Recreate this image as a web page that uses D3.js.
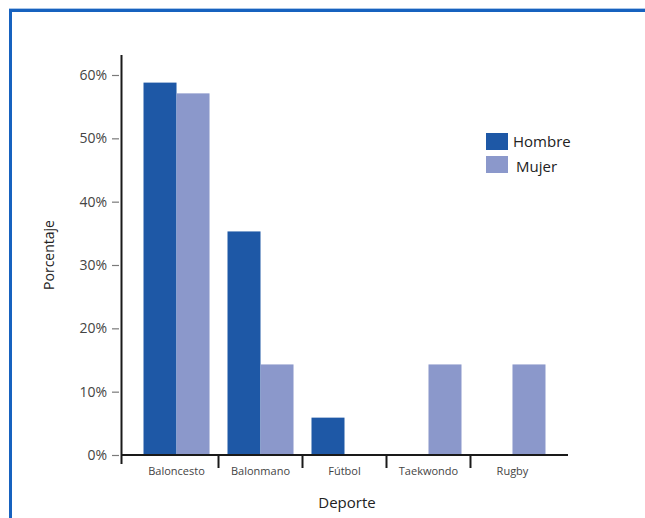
<!DOCTYPE html>
<html>
<head>
<meta charset="utf-8">
<script src="https://cdn.jsdelivr.net/npm/d3@7"></script>
<style>
  html, body { margin: 0; padding: 0; background: #fff; }
  svg { display: block; font-family: "Open Sans", "Noto Sans", sans-serif; }
</style>
</head>
<body>
<svg id="chart" width="645" height="518"></svg>
<script>
// Sports practised, share of respondents by sex
const categories = ["Baloncesto", "Balonmano", "Fútbol", "Taekwondo", "Rugby"];
const series = ["Hombre", "Mujer"];
const hombre = [58.8, 35.3, 5.9, 0, 0];
const mujer = [57.1, 14.3, 0, 14.3, 14.3];
const yTicks = [0, 10, 20, 30, 40, 50, 60];
const colors = ["#1e58a6", "#8b98cb"];

const svg = d3.select("#chart");

// Blue frame along the top and left edges
svg.append("line").attr("x1", 9).attr("x2", 645).attr("y1", 8.5).attr("y2", 8.5)
  .attr("stroke", "#a9c6e8").attr("stroke-width", 1);
svg.append("path").attr("d", "M10.5,518 V10.5 H645")
  .attr("fill", "none").attr("stroke", "#1762bf").attr("stroke-width", 3);

const x0 = d3.scaleBand().domain(categories).range([121, 568])
  .paddingInner(0.214).paddingOuter(0.268).align(0.5);
const x1 = d3.scaleBand().domain(series).range([0, x0.bandwidth()]);
const y = d3.scaleLinear().domain([0, 60]).range([455, 75]);

const rows = categories.map((c, i) => ({ cat: c, values: [hombre[i], mujer[i]] }));

// Bars
const g = svg.append("g");
rows.forEach(r => {
  r.values.forEach((v, j) => {
    if (v <= 0) return;
    g.append("rect")
      .attr("x", x0(r.cat) + x1(series[j]))
      .attr("y", y(v))
      .attr("width", x1.bandwidth())
      .attr("height", y(0) - y(v))
      .attr("fill", colors[j]);
  });
});

// Y axis
const yAxis = d3.axisLeft(y).tickValues(yTicks).tickFormat(d => d + "%")
  .tickSize(7).tickPadding(5);
const ya = svg.append("g").attr("transform", "translate(119,0)").call(yAxis);
ya.select(".domain").remove();
ya.selectAll(".tick line").attr("stroke", "#7a7a7a").attr("stroke-width", 1.2);
ya.selectAll(".tick text").attr("fill", "#444").style("font-size", "14px")
  .style("font-family", "'Open Sans', 'Noto Sans', sans-serif");
svg.append("line").attr("x1", 121.5).attr("x2", 121.5).attr("y1", 55).attr("y2", 464)
  .attr("stroke", "#1a1a1a").attr("stroke-width", 2);

// X axis with category separators
svg.append("line").attr("x1", 121).attr("x2", 568).attr("y1", 455).attr("y2", 455)
  .attr("stroke", "#1a1a1a").attr("stroke-width", 2);
const step = x0.step();
categories.slice(0, -1).forEach(c => {
  const sx = x0(c) + x0.bandwidth() + (step - x0.bandwidth()) / 2;
  svg.append("line").attr("x1", sx).attr("x2", sx).attr("y1", 454).attr("y2", 468)
    .attr("stroke", "#1a1a1a").attr("stroke-width", 2);
});
categories.forEach(c => {
  svg.append("text")
    .attr("x", x0(c) + x0.bandwidth() / 2)
    .attr("y", 475)
    .attr("text-anchor", "middle")
    .attr("fill", "#444")
    .style("font-size", "11px")
    .text(c);
});

// Axis titles
svg.append("text").attr("x", 347).attr("y", 508).attr("text-anchor", "middle")
  .attr("fill", "#222").style("font-size", "15px").text("Deporte");
svg.append("text").attr("transform", "translate(54,255) rotate(-90)")
  .attr("text-anchor", "middle").attr("fill", "#222").style("font-size", "14px")
  .text("Porcentaje");

// Legend
const legend = svg.append("g");
series.forEach((s, i) => {
  legend.append("rect").attr("x", 486).attr("y", 133 + i * 23)
    .attr("width", 22).attr("height", 17).attr("fill", colors[i]);
  legend.append("text").attr("x", 513 + i * 3).attr("y", 147 + i * 25)
    .attr("fill", "#222").style("font-size", "15px").text(s);
});
</script>
</body>
</html>
